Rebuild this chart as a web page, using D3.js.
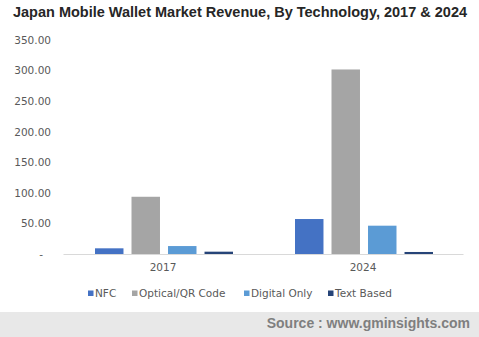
<!DOCTYPE html>
<html><head><meta charset="utf-8">
<script src="https://cdn.jsdelivr.net/npm/d3@7/dist/d3.min.js"></script>
<style>
body{margin:0;background:#fff;}
svg{display:block;}
</style></head>
<body>
<svg id="chart" width="479" height="337"></svg>
<script>
const years = ["2017", "2024"];
const series = ["NFC", "Optical/QR Code", "Digital Only", "Text Based"];
const nfc = [9.3, 57.2];
const optical = [93.6, 301.8];
const digital = [13.0, 46.3];
const textBased = [3.8, 3.3];
const yTicks = [0, 50, 100, 150, 200, 250, 300, 350];
const colors = ["#4472C4", "#A5A5A5", "#5B9BD5", "#264478"];
const title = "Japan Mobile Wallet Market Revenue, By Technology, 2017 & 2024";
const source = "Source : www.gminsights.com";

(function(){
const values = [nfc, optical, digital, textBased];
const svg = d3.select("#chart");
const W = 479, H = 337;
const mLeft = 63, mRight = 463, mTop = 40, mBottom = 254;

svg.append("text").attr("x", 13).attr("y", 17)
  .attr("font-family", "Liberation Sans, Arial, sans-serif")
  .attr("font-weight", "bold").attr("font-size", 14.5).attr("fill", "#262626")
  .attr("textLength", 454).attr("lengthAdjust", "spacingAndGlyphs")
  .text(title);

const x0 = d3.scaleBand().domain(years).range([mLeft, mRight]);
const x1 = d3.scaleBand().domain(series).range([32, 170]).paddingInner(0.22);
const y = d3.scaleLinear().domain([0, 350]).range([mBottom, mTop]);

const yAxis = d3.axisLeft(y).tickValues(yTicks).tickSize(0).tickPadding(0)
  .tickFormat(d => d === 0 ? "-" : d3.format(".2f")(d));
const ya = svg.append("g").attr("transform", `translate(51,0)`).call(yAxis);
ya.select(".domain").remove();
ya.selectAll("text").attr("font-family", "DejaVu Sans, Verdana, sans-serif")
  .attr("font-size", 10.5).attr("fill", "#595959")
  .filter(d => d === 0).attr("x", -8);

years.forEach((yr, i) => {
  const g = svg.append("g").attr("transform", `translate(${x0(yr)},0)`);
  g.selectAll("rect").data(series).join("rect")
    .attr("x", s => x1(s))
    .attr("width", x1.bandwidth())
    .attr("y", (s, j) => y(values[j][i]))
    .attr("height", (s, j) => mBottom - y(values[j][i]))
    .attr("fill", (s, j) => colors[j]);
});

const xAxis = d3.axisBottom(x0).tickSize(0).tickPadding(10);
const xa = svg.append("g").attr("transform", `translate(0,${mBottom})`).call(xAxis);
xa.select(".domain").attr("stroke", "#D9D9D9");
xa.selectAll("text").attr("font-family", "DejaVu Sans, Verdana, sans-serif")
  .attr("font-size", 10.5).attr("fill", "#595959");

const legX = [88, 132, 244, 328];
const leg = svg.append("g");
series.forEach((s, i) => {
  leg.append("rect").attr("x", legX[i]).attr("y", 290.5).attr("width", 5.5).attr("height", 5.5)
    .attr("fill", colors[i]);
  leg.append("text").attr("x", legX[i] + 7).attr("y", 297)
    .attr("font-family", "DejaVu Sans, Verdana, sans-serif")
    .attr("font-size", 10.5).attr("fill", "#595959").text(s);
});

svg.append("rect").attr("x", 0).attr("y", 312).attr("width", W).attr("height", H - 312).attr("fill", "#E8E8E8");
svg.append("text").attr("x", 470).attr("y", 327.5).attr("text-anchor", "end")
  .attr("font-family", "Liberation Sans, Arial, sans-serif")
  .attr("font-weight", "bold").attr("font-size", 14).attr("fill", "#7F7F7F")
  .text(source);
})();
</script>
</body></html>
